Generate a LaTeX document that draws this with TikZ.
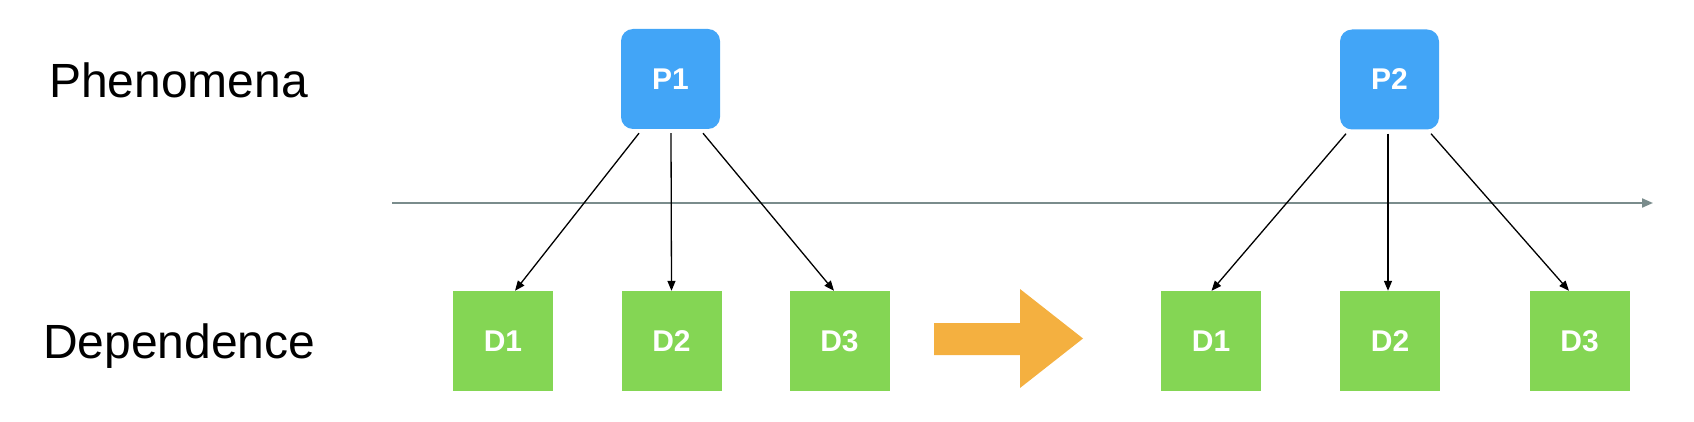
\documentclass[tikz,border=0pt]{standalone}
\usepackage{fontspec}
\setmainfont{Liberation Sans}
\usetikzlibrary{arrows.meta,calc}
\definecolor{pblue}{RGB}{66,165,247}
\definecolor{dgreen}{RGB}{132,214,84}
\definecolor{aorange}{RGB}{244,176,64}
\definecolor{tgray}{RGB}{122,140,140}
\tikzset{
  pbox/.style={fill=pblue,rounded corners=12pt,minimum width=99pt,minimum height=100pt,inner sep=0pt,text=white,font=\fontsize{30}{36}\selectfont\bfseries},
  dbox/.style={fill=dgreen,minimum width=100pt,minimum height=100pt,inner sep=0pt,text=white,font=\fontsize{30}{36}\selectfont\bfseries},
  lbl/.style={anchor=base west,inner sep=0pt,font=\fontsize{48}{58}\selectfont},
  link/.style={draw=black,line width=1.3pt,-{Triangle[length=10pt,width=8pt]}},
}
\begin{document}
\begin{tikzpicture}[x=1pt,y=-1pt]
\useasboundingbox (0,0) rectangle (1694,422);
\node[lbl] (phen) at (49,98) {Phenomena};
\node[lbl] (dep) at (43,358) {Dependence};
% timeline
\coordinate (t0) at (392,203);
\coordinate (t1) at (1653,203);
\draw[tgray,line width=2pt,-{Triangle[length=11pt,width=9pt]}] (t0) -- (t1);
% nodes
\node[pbox] (P1) at (670.5,79) {P1};
\node[pbox] (P2) at (1389.5,79.5) {P2};
\node[dbox] (D1) at (503,341) {D1};
\node[dbox] (D2) at (671.5,341) {D2};
\node[dbox] (D3) at (839.5,341) {D3};
\node[dbox] (E1) at (1211,341) {D1};
\node[dbox] (E2) at (1390,341) {D2};
\node[dbox] (E3) at (1579.5,341) {D3};
% links
\draw[link] ($(P1.south)+(-31.5,4)$) -- ($(D1.north)+(12,0)$);
\draw[link] ($(P1.south)+(0.5,4)$) -- ($(D2.north)+(0,0)$);
\draw[link] ($(P1.south)+(32.5,4)$) -- ($(D3.north)+(-5.5,0)$);
\draw[link] ($(P2.south)+(-43.5,4)$) -- ($(E1.north)+(0.5,0)$);
\draw[link] ($(P2.south)+(-1.5,4)$) -- ($(E2.north)+(-2,0)$);
\draw[link] ($(P2.south)+(41.5,4)$) -- ($(E3.north)+(-10.5,0)$);
% big arrow
\fill[aorange] (934,323) -- (1020,323) -- (1020,289) -- (1083,338.5) -- (1020,388) -- (1020,355) -- (934,355) -- cycle;
\end{tikzpicture}
\end{document}
